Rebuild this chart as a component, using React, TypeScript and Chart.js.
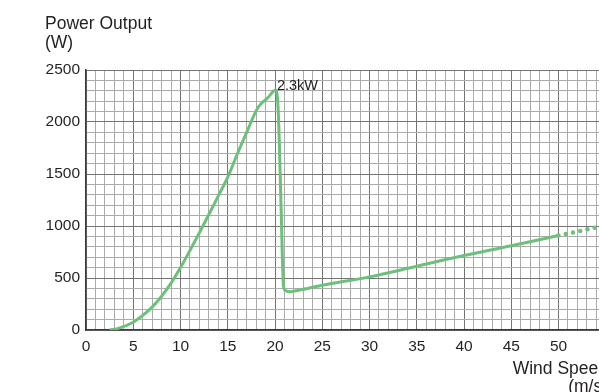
import React, { useEffect, useRef } from "react";
import { Chart, registerables } from "chart.js";

Chart.register(...registerables);

// Wind speed (m/s) and power output (W)
const windSpeed = [2.5, 3.5, 5, 6, 7, 8, 9, 10, 11, 12, 13, 14, 15, 16, 17, 18.2, 19.2, 20.1, 20.35, 20.65, 20.9, 21.1, 21.5, 22.5, 25, 30, 35, 40, 45, 50];
const powerOutput = [0, 18, 75, 140, 220, 325, 450, 600, 765, 935, 1110, 1290, 1470, 1690, 1900, 2139, 2230, 2308, 2090, 1159, 420, 380, 368, 382, 430, 511, 613, 716, 810, 908];
// Extrapolated (dotted) part
const extraSpeed = [50, 52, 54, 56];
const extraPower = [908, 947, 987, 1027];

const xTickLabels = [0, 5, 10, 15, 20, 25, 30, 35, 40, 45, 50];
const yTickLabels = [0, 500, 1000, 1500, 2000, 2500];

const yTitle = ["Power Output", "(W)"];
const xTitle = ["Wind Speed", "(m/s)"];
const peakLabel = "2.3kW";
const peakIndex = 17;

const GREEN = "rgb(108,192,122)";
const TEXT = "#231f20";
const FONT = "'Liberation Sans', Arial, Helvetica, sans-serif";

export default function App() {
  const ref = useRef<HTMLCanvasElement | null>(null);

  useEffect(() => {
    const canvas = ref.current;
    if (!canvas) return;

    const textPlugin = {
      id: "texts",
      afterDraw(chart: any) {
        const ctx = chart.ctx;
        const xs = chart.scales.x;
        const ys = chart.scales.y;
        ctx.save();
        ctx.fillStyle = TEXT;
        ctx.textBaseline = "alphabetic";
        ctx.font = `17.5px ${FONT}`;
        ctx.textAlign = "left";
        ctx.fillText(yTitle[0], 45, 29);
        ctx.fillText(yTitle[1], 45, 48);
        ctx.textAlign = "right";
        ctx.fillText(xTitle[0], 608, 374);
        ctx.fillText(xTitle[1], 608, 392);
        ctx.textAlign = "left";
        ctx.font = `14.5px ${FONT}`;
        const px = xs.getPixelForValue(windSpeed[peakIndex]);
        const py = ys.getPixelForValue(powerOutput[peakIndex]);
        ctx.fillText(peakLabel, px + 1, py + 0.5);
        ctx.restore();
      },
    };

    const chart = new Chart(canvas, {
      type: "line",
      data: {
        datasets: [
          {
            data: windSpeed.map((x, i) => ({ x, y: powerOutput[i] })),
            borderColor: GREEN,
            borderWidth: 3,
            pointRadius: 0,
            cubicInterpolationMode: "monotone",
            fill: false,
          },
          {
            data: extraSpeed.map((x, i) => ({ x, y: extraPower[i] })),
            borderColor: GREEN,
            borderWidth: 4.5,
            borderDash: [0, 7.4],
            borderCapStyle: "round",
            pointRadius: 0,
            fill: false,
          },
        ],
      },
      options: {
        responsive: false,
        animation: false,
        devicePixelRatio: 1,
        layout: { padding: { top: 70, left: 0, right: 7, bottom: 0 } },
        plugins: { legend: { display: false }, tooltip: { enabled: false } },
        scales: {
          x: {
            type: "linear",
            min: 0,
            max: 60,
            afterFit: (s: any) => {
              s.height = 62;
            },
            border: { display: true, color: "#3a3a3a", width: 1.5 },
            grid: {
              drawTicks: false,
              color: (c: any) => (c.tick && c.tick.value % 5 === 0 ? "#747474" : "#ababab"),
              lineWidth: 1,
            },
            ticks: {
              stepSize: 1,
              autoSkip: false,
              maxRotation: 0,
              padding: 7,
              color: TEXT,
              font: { family: FONT, size: 15.5 },
              callback: (v: any) => (xTickLabels.includes(Number(v)) ? String(v) : ""),
            },
          },
          y: {
            type: "linear",
            min: 0,
            max: 2500,
            afterFit: (s: any) => {
              s.width = 86;
            },
            border: { display: true, color: "#3a3a3a", width: 1.5 },
            grid: {
              drawTicks: false,
              color: (c: any) => (c.tick && c.tick.value % 500 === 0 ? "#747474" : "#ababab"),
              lineWidth: 1,
            },
            ticks: {
              stepSize: 100,
              autoSkip: false,
              padding: 6,
              color: TEXT,
              font: { family: FONT, size: 15.5 },
              callback: (v: any) => (yTickLabels.includes(Number(v)) ? String(v) : ""),
            },
          },
        },
      },
      plugins: [textPlugin],
    } as any);

    return () => chart.destroy();
  }, []);

  return (
    <div
      style={{
        position: "fixed",
        left: 0,
        top: 0,
        width: 599,
        height: 392,
        overflow: "hidden",
        background: "#fff",
      }}
    >
      <canvas ref={ref} width={660} height={392} style={{ width: 660, height: 392, display: "block" }} />
    </div>
  );
}
